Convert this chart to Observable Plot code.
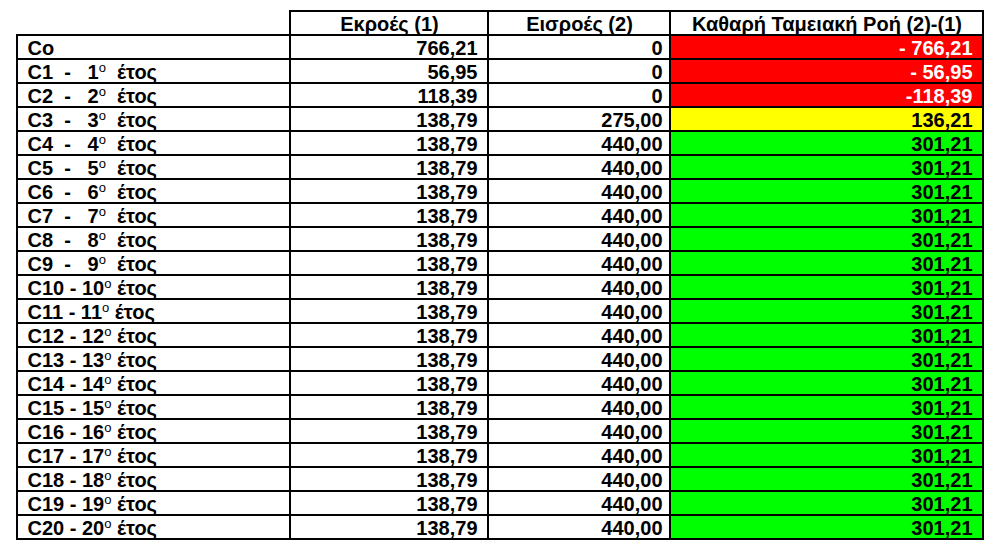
<!DOCTYPE html>
<html>
<head>
<meta charset="utf-8">
<script src="https://cdn.jsdelivr.net/npm/d3@7"></script>
<script src="https://cdn.jsdelivr.net/npm/@observablehq/plot@0.6"></script>
<style>
  html, body { margin: 0; padding: 0; background: #fff; }
  svg text { white-space: pre; }
</style>
</head>
<body>
<div id="chart"></div>
<script>
// ---- data ----
const headers = ["Εκροές (1)", "Εισροές (2)", "Καθαρή Ταμειακή Ροή (2)-(1)"];
const codes = ["Co","C1","C2","C3","C4","C5","C6","C7","C8","C9","C10",
               "C11","C12","C13","C14","C15","C16","C17","C18","C19","C20"];
const years = [null,1,2,3,4,5,6,7,8,9,10,11,12,13,14,15,16,17,18,19,20];
const outflows = [766.21,56.95,118.39,138.79,138.79,138.79,138.79,138.79,138.79,138.79,138.79,
                  138.79,138.79,138.79,138.79,138.79,138.79,138.79,138.79,138.79,138.79];
const inflows = [0,0,0,275,440,440,440,440,440,440,440,440,440,440,440,440,440,440,440,440,440];
const net = [-766.21,-56.95,-118.39,136.21,301.21,301.21,301.21,301.21,301.21,301.21,301.21,
             301.21,301.21,301.21,301.21,301.21,301.21,301.21,301.21,301.21,301.21];
const netText = ["- 766,21","- 56,95","-118,39","136,21","301,21","301,21","301,21","301,21","301,21",
                 "301,21","301,21","301,21","301,21","301,21","301,21","301,21","301,21","301,21",
                 "301,21","301,21","301,21"];

// ---- layout ----
const W = 996, H = 556;
const colEdges = [17, 290, 488, 670, 983];
const FONT = 20;

const fmt = v => v === 0 ? "0" : v.toFixed(2).replace(".", ",");
const rowLabel = (c, y) => y == null ? c :
  (y < 10 ? `${c}  -   ${y}°  έτος` : `${c} - ${y}° έτος`);
const netFill = v => v < 0 ? "#FF0000" : v < 200 ? "#FFFF00" : "#00FF00";

const rows = ["header", ...codes];
const cells = [];
const texts = [];
headers.forEach((h, j) => {
  cells.push({row: "header", x1: colEdges[j+1], x2: colEdges[j+2], fill: "white"});
  texts.push({row: "header", x: (colEdges[j+1] + colEdges[j+2]) / 2, text: h, anchor: "middle", color: "black"});
});
codes.forEach((c, i) => {
  cells.push({row: c, x1: colEdges[0], x2: colEdges[1], fill: "white"});
  cells.push({row: c, x1: colEdges[1], x2: colEdges[2], fill: "white"});
  cells.push({row: c, x1: colEdges[2], x2: colEdges[3], fill: "white"});
  cells.push({row: c, x1: colEdges[3], x2: colEdges[4], fill: netFill(net[i])});
  texts.push({row: c, x: colEdges[0] + 10, text: rowLabel(c, years[i]), anchor: "start", color: "black"});
  texts.push({row: c, x: colEdges[2] - 11, text: fmt(outflows[i]), anchor: "end", color: "black"});
  texts.push({row: c, x: colEdges[3] - 8, text: fmt(inflows[i]), anchor: "end", color: "black"});
  texts.push({row: c, x: colEdges[4] - 11, text: netText[i], anchor: "end", color: net[i] < 0 ? "white" : "black"});
});

const textOpts = anchor => ({x: "x", y: "row", text: "text", textAnchor: anchor, fill: "color",
  fontWeight: "bold", fontSize: FONT, dy: 1});

const chart = Plot.plot({
  width: W,
  height: H,
  marginTop: 10,
  marginBottom: 17,
  marginLeft: 0,
  marginRight: 0,
  style: {fontFamily: "'Liberation Sans', Arial, sans-serif", background: "white", overflow: "visible"},
  x: {domain: [0, W], range: [0, W], axis: null},
  y: {type: "band", domain: rows, padding: 0, axis: null},
  marks: [
    Plot.barX(cells, {x1: "x1", x2: "x2", y: "row", fill: d => d.fill, stroke: "black", strokeWidth: 1.3, shapeRendering: "crispEdges"}),
    Plot.text(texts.filter(d => d.anchor === "start"), textOpts("start")),
    Plot.text(texts.filter(d => d.anchor === "end"), textOpts("end")),
    Plot.text(texts.filter(d => d.anchor === "middle"), textOpts("middle"))
  ]
});

// superscript "o" in the year labels
chart.querySelectorAll("text").forEach(t => {
  const s = t.textContent;
  if (!s.includes("°")) return;
  const [a, b] = s.split("°");
  t.textContent = "";
  t.setAttribute("xml:space", "preserve");
  const ns = "http://www.w3.org/2000/svg";
  const t1 = document.createElementNS(ns, "tspan"); t1.textContent = a;
  const t2 = document.createElementNS(ns, "tspan"); t2.textContent = "o";
  t2.setAttribute("dy", "-7"); t2.setAttribute("font-size", "13"); t2.setAttribute("font-weight", "normal");
  const t3 = document.createElementNS(ns, "tspan"); t3.textContent = b;
  t3.setAttribute("dy", "7");
  t.append(t1, t2, t3);
});

document.getElementById("chart").appendChild(chart);
</script>
</body>
</html>
